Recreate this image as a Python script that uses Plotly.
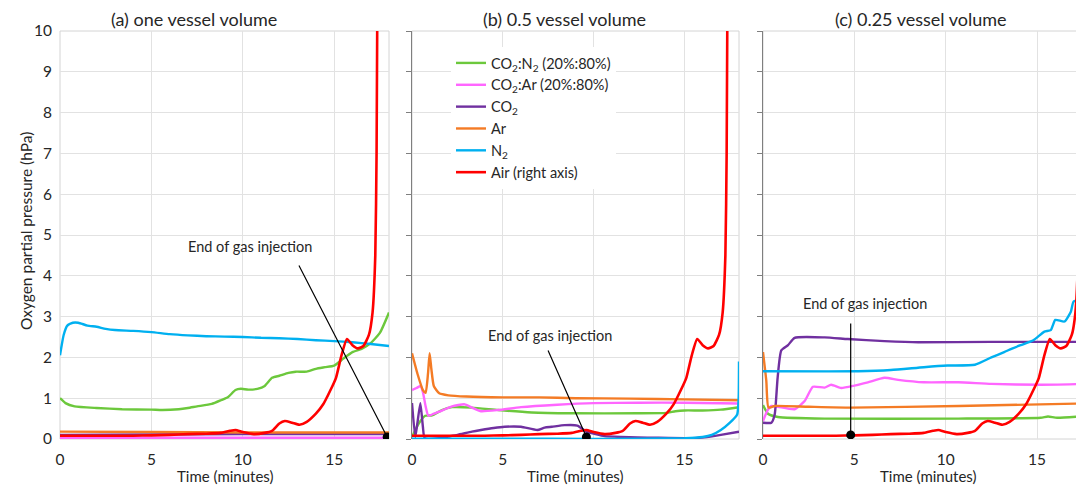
import plotly.graph_objects as go

# ---------------- data ----------------
series_names = ["CO<sub>2</sub>:N<sub>2</sub> (20%:80%)", "CO<sub>2</sub>:Ar (20%:80%)",
                "CO<sub>2</sub>", "Ar", "N<sub>2</sub>", "Air (right axis)"]
series_colors = ["#6CC83C", "#FF66FF", "#7030A0", "#F47B25", "#00B0F0", "#FF0000"]

panel_titles = ["(a) one vessel volume", "(b) 0.5 vessel volume", "(c) 0.25 vessel volume"]
x_title = "Time (minutes)"
y_title = "Oxygen partial pressure (hPa)"
note_text = "End of gas injection"

# Air (same reference run in every panel)
air_t = [0, 1, 2, 3, 4, 5, 6, 7, 8, 8.8, 9.3, 9.6, 10.0, 10.6, 11.2, 11.6, 12.0, 12.3, 12.7, 13.1,
         13.5, 14.0, 14.4, 14.8, 15.1, 15.4, 15.7, 16.0, 16.3, 16.6, 16.9, 17.1, 17.25, 17.32, 17.36]
air_p = [0.08, 0.08, 0.08, 0.08, 0.08, 0.09, 0.1, 0.12, 0.13, 0.15, 0.2, 0.22, 0.17, 0.12, 0.15, 0.2,
         0.38, 0.44, 0.4, 0.35, 0.42, 0.62, 0.85, 1.2, 1.5, 2.05, 2.45, 2.3, 2.22, 2.28, 2.55, 3.1,
         4.5, 7.0, 10.5]

# (a) one vessel volume
a_green_t = [0, 0.3, 0.8, 2, 3.4, 5, 5.6, 6.5, 7, 7.5, 8.3, 8.8, 9.2, 9.6, 9.9, 10.3, 10.8, 11.2, 11.6,
             12, 12.5, 12.9, 13.5, 14, 14.5, 15, 15.5, 16, 16.5, 17, 17.5, 18]
a_green_p = [1.0, 0.88, 0.8, 0.76, 0.73, 0.72, 0.71, 0.73, 0.76, 0.8, 0.86, 0.95, 1.03, 1.2, 1.23, 1.21,
             1.23, 1.3, 1.5, 1.55, 1.62, 1.65, 1.65, 1.72, 1.76, 1.8, 1.97, 2.13, 2.21, 2.35, 2.6, 3.1]
a_magenta_t = [0, 5, 10, 15, 18]
a_magenta_p = [0.03, 0.03, 0.03, 0.03, 0.03]
a_purple_t = [0, 5, 10, 15, 18]
a_purple_p = [0.1, 0.11, 0.12, 0.12, 0.12]
a_orange_t = [0, 5, 10, 15, 18]
a_orange_p = [0.18, 0.17, 0.16, 0.16, 0.16]
a_cyan_t = [0, 0.2, 0.4, 0.7, 1.0, 1.5, 2, 2.5, 3, 4, 5, 6, 7, 8, 9, 10, 11, 12, 13, 14, 15, 16, 17, 18]
a_cyan_p = [2.05, 2.55, 2.78, 2.85, 2.85, 2.78, 2.75, 2.7, 2.67, 2.65, 2.62, 2.57, 2.54, 2.52, 2.51,
            2.5, 2.48, 2.47, 2.45, 2.42, 2.4, 2.37, 2.33, 2.28]

# (b) 0.5 vessel volume
b_green_t = [0, 0.37, 0.73, 1.1, 1.65, 2.2, 3.3, 4.75, 6.6, 8.8, 12.4, 14, 14.5, 15, 16, 17, 18]
b_green_p = [0.05, 0.38, 0.57, 0.58, 0.71, 0.78, 0.77, 0.71, 0.65, 0.63, 0.63, 0.64, 0.68, 0.7, 0.7,
             0.72, 0.78]
b_magenta_t = [0, 0.25, 0.46, 0.6, 0.75, 0.9, 1.2, 1.5, 2.2, 2.9, 3.4, 3.8, 4.75, 6, 8, 10, 12.5, 15, 18]
b_magenta_p = [1.2, 1.25, 1.3, 1.15, 0.8, 0.57, 0.62, 0.67, 0.8, 0.85, 0.75, 0.68, 0.71, 0.78, 0.84,
               0.88, 0.89, 0.89, 0.87]
b_purple_t = [0, 0.18, 0.3, 0.46, 0.6, 0.7, 1.5, 2, 2.5, 3.3, 3.8, 4.5, 5.1, 6.0, 6.9, 7.3, 7.7, 8.4,
              9.1, 9.6, 10.1, 10.6, 11.5, 12.4, 13.5, 15.2, 16.1, 17, 18]
b_purple_p = [0.88, 0.05, 0.4, 0.88, 0.3, 0.02, 0.02, 0.06, 0.1, 0.18, 0.22, 0.27, 0.3, 0.3, 0.22, 0.28,
              0.3, 0.34, 0.33, 0.18, 0.12, 0.07, 0.05, 0.04, 0.03, 0.02, 0.04, 0.1, 0.18]
b_orange_t = [0, 0.3, 0.6, 0.75, 0.88, 0.97, 1.07, 1.2, 1.5, 2, 3, 5, 7, 9, 12, 15, 18]
b_orange_p = [2.1, 1.6, 1.2, 1.13, 1.6, 2.1, 1.7, 1.3, 1.12, 1.07, 1.04, 1.02, 1.02, 1.0, 0.99, 0.97, 0.95]
b_cyan_t = [0, 5, 10, 15, 16, 16.5, 17, 17.5, 17.9, 17.98, 18.0]
b_cyan_p = [0.01, 0.01, 0.0, 0.02, 0.05, 0.1, 0.22, 0.4, 0.6, 1.0, 1.9]

# (c) 0.25 vessel volume
c_green_t = [0, 0.27, 0.82, 3.37, 10.7, 15.2, 15.6, 16.1, 17.6]
c_green_p = [0.83, 0.62, 0.54, 0.5, 0.5, 0.52, 0.55, 0.52, 0.56]
c_magenta_t = [0, 0.25, 0.46, 0.82, 1.73, 2.28, 2.73, 3.37, 3.73, 4.28, 5.0, 5.74, 6.65, 7.4, 8.8,
               10.7, 12.5, 15.2, 17.6]
c_magenta_p = [0.44, 0.7, 0.81, 0.79, 0.73, 0.93, 1.28, 1.26, 1.33, 1.25, 1.31, 1.39, 1.5, 1.45, 1.39,
               1.39, 1.35, 1.33, 1.35]
c_purple_t = [0, 0.46, 0.64, 0.8, 1.0, 1.37, 1.73, 3.37, 4.64, 6.65, 8.5, 12.5, 17.6]
c_purple_p = [0.4, 0.4, 0.6, 1.5, 2.17, 2.3, 2.48, 2.49, 2.45, 2.4, 2.37, 2.38, 2.38]
c_orange_t = [0, 0.18, 0.3, 0.64, 2.5, 4.8, 10.7, 17.6]
c_orange_p = [2.13, 1.43, 0.77, 0.81, 0.79, 0.77, 0.81, 0.87]
c_cyan_t = [0, 5.2, 7, 8.8, 10.1, 11.6, 12.5, 13.2, 13.6, 14.1, 14.8, 15.4, 15.75, 16, 16.5, 16.85, 17,
            17.4, 17.6]
c_cyan_p = [1.66, 1.66, 1.69, 1.76, 1.8, 1.82, 2.0, 2.13, 2.21, 2.3, 2.42, 2.63, 2.67, 2.92, 2.88, 3.12,
            3.37, 3.41, 3.5]

# end of gas injection markers (time, pressure) per panel
inject_t = [17.9, 9.6, 4.8]
inject_p = [0.05, 0.05, 0.1]

x_max = [18, 18, 17.57]
y_ticks = [0, 1, 2, 3, 4, 5, 6, 7, 8, 9, 10]
x_ticks = [0, 5, 10, 15]

panels = [
    [(a_green_t, a_green_p), (a_magenta_t, a_magenta_p), (a_purple_t, a_purple_p),
     (a_orange_t, a_orange_p), (a_cyan_t, a_cyan_p), (air_t, air_p)],
    [(b_green_t, b_green_p), (b_magenta_t, b_magenta_p), (b_purple_t, b_purple_p),
     (b_orange_t, b_orange_p), (b_cyan_t, b_cyan_p), (air_t, air_p)],
    [(c_green_t, c_green_p), (c_magenta_t, c_magenta_p), (c_purple_t, c_purple_p),
     (c_orange_t, c_orange_p), (c_cyan_t, c_cyan_p), (air_t, air_p)],
]

# ---------------- figure ----------------
# the page body has an 8px margin, so the figure is drawn 8px smaller and all
# layout positions (given in screen pixels) are shifted by that offset
OFF = 8
W, H = 1084 - OFF, 490 - OFF
FONT = "Lato, 'Open Sans', sans-serif"
TXT = "#262626"
GRID = "#E2E2E2"


def fx(px):
    return (px - OFF) / W


def fy(py):
    return 1 - (py - OFF) / H


x_px = [(60, 389), (412, 739), (763, 1084)]
y_dom = [fy(439), fy(31)]

fig = go.Figure()
for i, panel in enumerate(panels):
    sfx = "" if i == 0 else str(i + 1)
    for j, (t, p) in enumerate(panel):
        fig.add_trace(go.Scatter(
            x=t, y=p, mode="lines", name=series_names[j],
            line=dict(color=series_colors[j], width=2.6 if j == 5 else 2.4,
                      shape="spline", smoothing=0.5),
            showlegend=(i == 0), legendrank=j + 1,
            xaxis="x" + sfx, yaxis="y" + sfx, hoverinfo="skip"))
    fig.add_trace(go.Scatter(
        x=[inject_t[i]], y=[inject_p[i]], mode="markers",
        marker=dict(color="black", size=9), showlegend=False,
        xaxis="x" + sfx, yaxis="y" + sfx, hoverinfo="skip"))

layout = dict(
    width=W, height=H, margin=dict(l=0, r=0, t=0, b=0, autoexpand=False),
    paper_bgcolor="white", plot_bgcolor="white",
    font=dict(family=FONT, color=TXT, size=14),
    legend=dict(x=fx(451), y=fy(47), xanchor="left", yanchor="top",
                bgcolor="white", borderwidth=0, font=dict(size=14.5, color=TXT),
                tracegroupgap=0, itemwidth=30),
    annotations=[], shapes=[],
)

for i in range(3):
    sfx = "" if i == 0 else str(i + 1)
    xa = dict(domain=[fx(x_px[i][0]), min(1.0, fx(x_px[i][1]))], range=[0, x_max[i]],
              tickvals=x_ticks, showgrid=True, gridcolor=GRID, gridwidth=1,
              zeroline=False, showline=False, ticks="", automargin=False,
              tickfont=dict(size=15.5, color=TXT), ticklabelstandoff=9,
              anchor="y" + sfx, fixedrange=True)
    ya = dict(domain=y_dom, range=[0, 10], tickvals=y_ticks, showgrid=True, gridcolor=GRID,
              gridwidth=1, zeroline=False, anchor="x" + sfx, fixedrange=True, automargin=False,
              tickfont=dict(size=15.5, color=TXT))
    if i == 0:
        ya.update(showline=False, ticks="", showticklabels=True, ticklabelstandoff=7)
    else:
        ya.update(showline=True, linecolor="#7F7F7F", linewidth=1.3, ticks="outside",
                  ticklen=5, tickcolor="#7F7F7F", tickwidth=1, showticklabels=False)
    layout["xaxis" + sfx] = xa
    layout["yaxis" + sfx] = ya
    layout["shapes"].append(dict(type="rect", xref="x" + sfx + " domain", yref="y" + sfx + " domain",
                                 x0=0, x1=1, y0=0, y1=1, line=dict(color="#D4D4D4", width=1),
                                 layer="below"))

# panel titles and x-axis titles
title_cx = [194, 564, 921]
xtitle_cx = [225, 575, 928]
for i in range(3):
    layout["annotations"].append(dict(text=panel_titles[i], xref="paper", yref="paper",
                                      x=fx(title_cx[i]), y=fy(19), showarrow=False,
                                      font=dict(size=18, color=TXT), xanchor="center",
                                      yanchor="middle"))
    layout["annotations"].append(dict(text=x_title, xref="paper", yref="paper",
                                      x=fx(xtitle_cx[i]), y=fy(476), showarrow=False,
                                      font=dict(size=15, color=TXT), xanchor="center",
                                      yanchor="middle"))
# y-axis title
layout["annotations"].append(dict(text=y_title, xref="paper", yref="paper",
                                  x=fx(26), y=fy(231), textangle=-90, showarrow=False,
                                  font=dict(size=15.5, color=TXT), xanchor="center",
                                  yanchor="middle"))

# "End of gas injection" labels with pointer lines
arrow_off = [(-89, -173), (-39, -88), (0, -113)]
text_shift = [(-137, 190), (-36, 101), (14, 131)]
for i in range(3):
    sfx = "" if i == 0 else str(i + 1)
    layout["annotations"].append(dict(
        text="", x=inject_t[i], y=inject_p[i], xref="x" + sfx, yref="y" + sfx,
        showarrow=True, arrowhead=0, arrowwidth=1.2, arrowcolor="black",
        ax=arrow_off[i][0], ay=arrow_off[i][1], axref="pixel", ayref="pixel"))
    layout["annotations"].append(dict(
        text=note_text, x=inject_t[i], y=inject_p[i], xref="x" + sfx, yref="y" + sfx,
        showarrow=False, xshift=text_shift[i][0], yshift=text_shift[i][1],
        font=dict(size=14.5, color=TXT), xanchor="center", yanchor="middle"))

fig.update_layout(**layout)
fig.write_html("out.html")
